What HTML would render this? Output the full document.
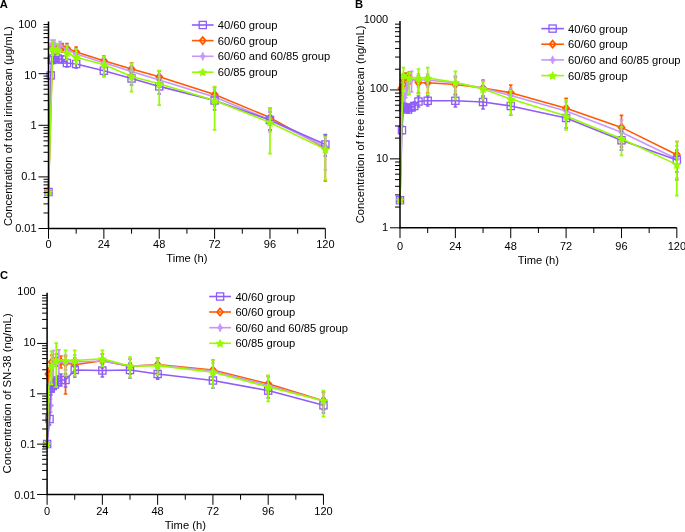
<!DOCTYPE html>
<html><head><meta charset="utf-8"><style>
html,body{margin:0;padding:0;background:#fff;}
svg{display:block;font-family:"Liberation Sans", sans-serif;will-change:transform;}
</style></head><body>
<svg width="685" height="532" viewBox="0 0 685 532" fill="#000">
<text x="36.6" y="231.6" text-anchor="end" font-size="11">0.01</text>
<text x="36.6" y="180.4" text-anchor="end" font-size="11">0.1</text>
<text x="36.6" y="129.2" text-anchor="end" font-size="11">1</text>
<text x="36.6" y="78.9" text-anchor="end" font-size="11">10</text>
<text x="36.6" y="27.9" text-anchor="end" font-size="11">100</text>
<text x="48.5" y="247.9" text-anchor="middle" font-size="11">0</text>
<text x="103.87" y="247.9" text-anchor="middle" font-size="11">24</text>
<text x="159.24" y="247.9" text-anchor="middle" font-size="11">48</text>
<text x="214.6" y="247.9" text-anchor="middle" font-size="11">72</text>
<text x="269.97" y="247.9" text-anchor="middle" font-size="11">96</text>
<text x="325.34" y="247.9" text-anchor="middle" font-size="11">120</text>
<text x="186.92" y="261.9" text-anchor="middle" font-size="11.2">Time (h)</text>
<text transform="translate(12.3 126.2) rotate(-90)" text-anchor="middle" font-size="11.2">Concentration of total irinotecan (μg/mL)</text>
<text x="-0.3" y="7.7" font-size="11.2" font-weight="bold">A</text>
<path d="M52.65 43V52M57.5 44V53M62.34 43.5V52M66.96 43.5V53M76.18 47V57M103.87 56V66M131.55 63V75M159.24 71V83M214.6 87V103M269.97 108V130M325.34 135V181" stroke="#ff5a00" stroke-width="1.7" fill="none"/>
<path d="M50.85 43H54.45M50.85 52H54.45M55.7 44H59.3M55.7 53H59.3M60.54 43.5H64.14M60.54 52H64.14M65.16 43.5H68.76M65.16 53H68.76M74.38 47H77.98M74.38 57H77.98M102.07 56H105.67M102.07 66H105.67M129.75 63H133.35M129.75 75H133.35M157.44 71H161.04M157.44 83H161.04M212.8 87H216.4M212.8 103H216.4M268.17 108H271.77M268.17 130H271.77M323.54 135H327.14M323.54 181H327.14" stroke="#ff5a00" stroke-width="1.7" fill="none"/>
<path d="M48.5 192L52.65 47.5L57.5 48.5L62.34 47.8L66.96 48.3L76.18 52L103.87 60.7L131.55 68.9L159.24 76.8L214.6 94.4L269.97 117.6L325.34 148" stroke="#ff5a00" stroke-width="1.6" fill="none" stroke-linejoin="round"/>
<path d="M48.5 188.5L51.5 192L48.5 195.5L45.5 192Z" fill="none" stroke="#ff5a00" stroke-width="1.8"/>
<path d="M52.65 44L55.65 47.5L52.65 51L49.65 47.5Z" fill="none" stroke="#ff5a00" stroke-width="1.8"/>
<path d="M57.5 45L60.5 48.5L57.5 52L54.5 48.5Z" fill="none" stroke="#ff5a00" stroke-width="1.8"/>
<path d="M62.34 44.3L65.34 47.8L62.34 51.3L59.34 47.8Z" fill="none" stroke="#ff5a00" stroke-width="1.8"/>
<path d="M66.96 44.8L69.96 48.3L66.96 51.8L63.96 48.3Z" fill="none" stroke="#ff5a00" stroke-width="1.8"/>
<path d="M76.18 48.5L79.18 52L76.18 55.5L73.18 52Z" fill="none" stroke="#ff5a00" stroke-width="1.8"/>
<path d="M103.87 57.2L106.87 60.7L103.87 64.2L100.87 60.7Z" fill="none" stroke="#ff5a00" stroke-width="1.8"/>
<path d="M131.55 65.4L134.55 68.9L131.55 72.4L128.55 68.9Z" fill="none" stroke="#ff5a00" stroke-width="1.8"/>
<path d="M159.24 73.3L162.24 76.8L159.24 80.3L156.24 76.8Z" fill="none" stroke="#ff5a00" stroke-width="1.8"/>
<path d="M214.6 90.9L217.6 94.4L214.6 97.9L211.6 94.4Z" fill="none" stroke="#ff5a00" stroke-width="1.8"/>
<path d="M269.97 114.1L272.97 117.6L269.97 121.1L266.97 117.6Z" fill="none" stroke="#ff5a00" stroke-width="1.8"/>
<path d="M325.34 144.5L328.34 148L325.34 151.5L322.34 148Z" fill="none" stroke="#ff5a00" stroke-width="1.8"/>
<path d="M51.96 40V49M54.27 40V49M60.03 41.5V50M66.96 45V55M76.18 49V59M103.87 58V68M131.55 66V77M159.24 74V87M214.6 89V106M269.97 110V132M325.34 136V170" stroke="#c896fa" stroke-width="1.7" fill="none"/>
<path d="M50.16 40H53.76M50.16 49H53.76M52.47 40H56.07M52.47 49H56.07M58.23 41.5H61.83M58.23 50H61.83M65.16 45H68.76M65.16 55H68.76M74.38 49H77.98M74.38 59H77.98M102.07 58H105.67M102.07 68H105.67M129.75 66H133.35M129.75 77H133.35M157.44 74H161.04M157.44 87H161.04M212.8 89H216.4M212.8 106H216.4M268.17 110H271.77M268.17 132H271.77M323.54 136H327.14M323.54 170H327.14" stroke="#c896fa" stroke-width="1.7" fill="none"/>
<path d="M48.5 192L51.96 44.5L54.27 44L60.03 45.5L66.96 49.5L76.18 54L103.87 62.8L131.55 71.5L159.24 80L214.6 96.9L269.97 120L325.34 147" stroke="#c896fa" stroke-width="1.6" fill="none" stroke-linejoin="round"/>
<path d="M48.5 187.9Q49.2 191.1 51.4 192Q49.2 192.9 48.5 196.1Q47.8 192.9 45.6 192Q47.8 191.1 48.5 187.9Z" fill="#c896fa" stroke="#c896fa" stroke-width="0.9" stroke-linejoin="round"/>
<path d="M51.96 40.4Q52.66 43.6 54.86 44.5Q52.66 45.4 51.96 48.6Q51.26 45.4 49.06 44.5Q51.26 43.6 51.96 40.4Z" fill="#c896fa" stroke="#c896fa" stroke-width="0.9" stroke-linejoin="round"/>
<path d="M54.27 39.9Q54.97 43.1 57.17 44Q54.97 44.9 54.27 48.1Q53.57 44.9 51.37 44Q53.57 43.1 54.27 39.9Z" fill="#c896fa" stroke="#c896fa" stroke-width="0.9" stroke-linejoin="round"/>
<path d="M60.03 41.4Q60.73 44.6 62.93 45.5Q60.73 46.4 60.03 49.6Q59.33 46.4 57.13 45.5Q59.33 44.6 60.03 41.4Z" fill="#c896fa" stroke="#c896fa" stroke-width="0.9" stroke-linejoin="round"/>
<path d="M66.96 45.4Q67.66 48.6 69.86 49.5Q67.66 50.4 66.96 53.6Q66.26 50.4 64.06 49.5Q66.26 48.6 66.96 45.4Z" fill="#c896fa" stroke="#c896fa" stroke-width="0.9" stroke-linejoin="round"/>
<path d="M76.18 49.9Q76.88 53.1 79.08 54Q76.88 54.9 76.18 58.1Q75.48 54.9 73.28 54Q75.48 53.1 76.18 49.9Z" fill="#c896fa" stroke="#c896fa" stroke-width="0.9" stroke-linejoin="round"/>
<path d="M103.87 58.7Q104.57 61.9 106.77 62.8Q104.57 63.7 103.87 66.9Q103.17 63.7 100.97 62.8Q103.17 61.9 103.87 58.7Z" fill="#c896fa" stroke="#c896fa" stroke-width="0.9" stroke-linejoin="round"/>
<path d="M131.55 67.4Q132.25 70.6 134.45 71.5Q132.25 72.4 131.55 75.6Q130.85 72.4 128.65 71.5Q130.85 70.6 131.55 67.4Z" fill="#c896fa" stroke="#c896fa" stroke-width="0.9" stroke-linejoin="round"/>
<path d="M159.24 75.9Q159.94 79.1 162.14 80Q159.94 80.9 159.24 84.1Q158.54 80.9 156.34 80Q158.54 79.1 159.24 75.9Z" fill="#c896fa" stroke="#c896fa" stroke-width="0.9" stroke-linejoin="round"/>
<path d="M214.6 92.8Q215.3 96 217.5 96.9Q215.3 97.8 214.6 101Q213.9 97.8 211.7 96.9Q213.9 96 214.6 92.8Z" fill="#c896fa" stroke="#c896fa" stroke-width="0.9" stroke-linejoin="round"/>
<path d="M269.97 115.9Q270.67 119.1 272.87 120Q270.67 120.9 269.97 124.1Q269.27 120.9 267.07 120Q269.27 119.1 269.97 115.9Z" fill="#c896fa" stroke="#c896fa" stroke-width="0.9" stroke-linejoin="round"/>
<path d="M325.34 142.9Q326.04 146.1 328.24 147Q326.04 147.9 325.34 151.1Q324.64 147.9 322.44 147Q324.64 146.1 325.34 142.9Z" fill="#c896fa" stroke="#c896fa" stroke-width="0.9" stroke-linejoin="round"/>
<path d="M50.69 72V79M51.96 56V64M53.11 55V62M55.42 54V62M57.73 55V63M62.34 56V63M66.96 59V67M76.18 60V68M103.87 66V76M131.55 73V85M159.24 80V94M214.6 93V110M269.97 112V130M325.34 134.5V156" stroke="#8f5cf7" stroke-width="1.7" fill="none"/>
<path d="M48.89 72H52.49M48.89 79H52.49M50.16 56H53.76M50.16 64H53.76M51.31 55H54.91M51.31 62H54.91M53.62 54H57.22M53.62 62H57.22M55.93 55H59.53M55.93 63H59.53M60.54 56H64.14M60.54 63H64.14M65.16 59H68.76M65.16 67H68.76M74.38 60H77.98M74.38 68H77.98M102.07 66H105.67M102.07 76H105.67M129.75 73H133.35M129.75 85H133.35M157.44 80H161.04M157.44 94H161.04M212.8 93H216.4M212.8 110H216.4M268.17 112H271.77M268.17 130H271.77M323.54 134.5H327.14M323.54 156H327.14" stroke="#8f5cf7" stroke-width="1.7" fill="none"/>
<path d="M48.5 192L50.69 75.4L51.96 60L53.11 58.5L55.42 58L57.73 58.5L62.34 59.5L66.96 63L76.18 64L103.87 70.7L131.55 78.5L159.24 86.4L214.6 100.5L269.97 120L325.34 144.5" stroke="#8f5cf7" stroke-width="1.6" fill="none" stroke-linejoin="round"/>
<rect x="44.9" y="188.4" width="7.2" height="7.2" fill="none" stroke="#8f5cf7" stroke-width="1.3"/>
<rect x="47.09" y="71.8" width="7.2" height="7.2" fill="none" stroke="#8f5cf7" stroke-width="1.3"/>
<rect x="48.36" y="56.4" width="7.2" height="7.2" fill="none" stroke="#8f5cf7" stroke-width="1.3"/>
<rect x="49.51" y="54.9" width="7.2" height="7.2" fill="none" stroke="#8f5cf7" stroke-width="1.3"/>
<rect x="51.82" y="54.4" width="7.2" height="7.2" fill="none" stroke="#8f5cf7" stroke-width="1.3"/>
<rect x="54.13" y="54.9" width="7.2" height="7.2" fill="none" stroke="#8f5cf7" stroke-width="1.3"/>
<rect x="58.74" y="55.9" width="7.2" height="7.2" fill="none" stroke="#8f5cf7" stroke-width="1.3"/>
<rect x="63.36" y="59.4" width="7.2" height="7.2" fill="none" stroke="#8f5cf7" stroke-width="1.3"/>
<rect x="72.58" y="60.4" width="7.2" height="7.2" fill="none" stroke="#8f5cf7" stroke-width="1.3"/>
<rect x="100.27" y="67.1" width="7.2" height="7.2" fill="none" stroke="#8f5cf7" stroke-width="1.3"/>
<rect x="127.95" y="74.9" width="7.2" height="7.2" fill="none" stroke="#8f5cf7" stroke-width="1.3"/>
<rect x="155.64" y="82.8" width="7.2" height="7.2" fill="none" stroke="#8f5cf7" stroke-width="1.3"/>
<rect x="211" y="96.9" width="7.2" height="7.2" fill="none" stroke="#8f5cf7" stroke-width="1.3"/>
<rect x="266.37" y="116.4" width="7.2" height="7.2" fill="none" stroke="#8f5cf7" stroke-width="1.3"/>
<rect x="321.74" y="140.9" width="7.2" height="7.2" fill="none" stroke="#8f5cf7" stroke-width="1.3"/>
<path d="M52.65 41.7V55.2M57.5 43.7V55.2M66.96 45.7V59.6M76.18 49V64M103.87 56.6V76.8M131.55 63.6V91.7M159.24 70.7V105.2M214.6 86.6V129.9M269.97 107.9V153.6M325.34 137V180" stroke="#95fb00" stroke-width="1.7" fill="none"/>
<path d="M50.85 41.7H54.45M50.85 55.2H54.45M55.7 43.7H59.3M55.7 55.2H59.3M65.16 45.7H68.76M65.16 59.6H68.76M74.38 49H77.98M74.38 64H77.98M102.07 56.6H105.67M102.07 76.8H105.67M129.75 63.6H133.35M129.75 91.7H133.35M157.44 70.7H161.04M157.44 105.2H161.04M212.8 86.6H216.4M212.8 129.9H216.4M268.17 107.9H271.77M268.17 153.6H271.77M323.54 137H327.14M323.54 180H327.14" stroke="#95fb00" stroke-width="1.7" fill="none"/>
<path d="M48.5 192L52.65 48.5L57.5 50L66.96 52.8L76.18 57.3L103.87 64.5L131.55 76.4L159.24 83.8L214.6 100.5L269.97 122.5L325.34 149.4" stroke="#95fb00" stroke-width="1.6" fill="none" stroke-linejoin="round"/>
<polygon points="48.5,187.5 49.94,190.42 53.16,190.89 50.83,193.16 51.38,196.36 48.5,194.85 45.62,196.36 46.17,193.16 43.84,190.89 47.06,190.42" fill="#95fb00"/>
<polygon points="52.65,44 54.09,46.92 57.31,47.39 54.98,49.66 55.53,52.86 52.65,51.35 49.77,52.86 50.32,49.66 47.99,47.39 51.21,46.92" fill="#95fb00"/>
<polygon points="57.5,45.5 58.94,48.42 62.16,48.89 59.83,51.16 60.38,54.36 57.5,52.85 54.62,54.36 55.17,51.16 52.84,48.89 56.06,48.42" fill="#95fb00"/>
<polygon points="66.96,48.3 68.4,51.22 71.62,51.69 69.29,53.96 69.84,57.16 66.96,55.65 64.08,57.16 64.63,53.96 62.3,51.69 65.52,51.22" fill="#95fb00"/>
<polygon points="76.18,52.8 77.62,55.72 80.84,56.19 78.51,58.46 79.06,61.66 76.18,60.15 73.3,61.66 73.85,58.46 71.52,56.19 74.74,55.72" fill="#95fb00"/>
<polygon points="103.87,60 105.31,62.92 108.53,63.39 106.2,65.66 106.75,68.86 103.87,67.35 100.99,68.86 101.54,65.66 99.21,63.39 102.43,62.92" fill="#95fb00"/>
<polygon points="131.55,71.9 132.99,74.82 136.21,75.29 133.88,77.56 134.43,80.76 131.55,79.25 128.67,80.76 129.22,77.56 126.89,75.29 130.11,74.82" fill="#95fb00"/>
<polygon points="159.24,79.3 160.68,82.22 163.9,82.69 161.57,84.96 162.12,88.16 159.24,86.65 156.36,88.16 156.91,84.96 154.58,82.69 157.8,82.22" fill="#95fb00"/>
<polygon points="214.6,96 216.04,98.92 219.26,99.39 216.93,101.66 217.48,104.86 214.6,103.35 211.72,104.86 212.27,101.66 209.94,99.39 213.16,98.92" fill="#95fb00"/>
<polygon points="269.97,118 271.41,120.92 274.63,121.39 272.3,123.66 272.85,126.86 269.97,125.35 267.09,126.86 267.64,123.66 265.31,121.39 268.53,120.92" fill="#95fb00"/>
<polygon points="325.34,144.9 326.78,147.82 330,148.29 327.67,150.56 328.22,153.76 325.34,152.25 322.46,153.76 323.01,150.56 320.68,148.29 323.9,147.82" fill="#95fb00"/>
<path d="M38.5 228.5H48.5M43.5 212.97H48.5M43.5 203.88H48.5M43.5 197.43H48.5M43.5 192.43H48.5M43.5 188.35H48.5M43.5 184.89H48.5M43.5 181.9H48.5M43.5 179.26H48.5M38.5 176.9H48.5M43.5 161.37H48.5M43.5 152.28H48.5M43.5 145.83H48.5M43.5 140.83H48.5M43.5 136.75H48.5M43.5 133.29H48.5M43.5 130.3H48.5M43.5 127.66H48.5M38.5 125.3H48.5M43.5 109.77H48.5M43.5 100.68H48.5M43.5 94.23H48.5M43.5 89.23H48.5M43.5 85.15H48.5M43.5 81.69H48.5M43.5 78.7H48.5M43.5 76.06H48.5M38.5 73.7H48.5M43.5 58.17H48.5M43.5 49.08H48.5M43.5 42.63H48.5M43.5 37.63H48.5M43.5 33.55H48.5M43.5 30.09H48.5M43.5 27.1H48.5M43.5 24.46H48.5M48.5 228.5V238.8M76.18 228.5V233.7M103.87 228.5V238.8M131.55 228.5V233.7M159.24 228.5V238.8M186.92 228.5V233.7M214.6 228.5V238.8M242.29 228.5V233.7M269.97 228.5V238.8M297.66 228.5V233.7M325.34 228.5V238.8" fill="none" stroke="#000" stroke-width="1"/>
<path d="M48.5 21.4V228.5H325.34" fill="none" stroke="#000" stroke-width="1.5"/>
<path d="M191.9 25H213.6" stroke="#8f5cf7" stroke-width="1.6"/>
<rect x="199.15" y="21.4" width="7.2" height="7.2" fill="none" stroke="#8f5cf7" stroke-width="1.3"/>
<text x="217.7" y="29.1" font-size="11.2">40/60 group</text>
<path d="M191.9 40.6H213.6" stroke="#ff5a00" stroke-width="1.6"/>
<path d="M202.75 37.1L205.75 40.6L202.75 44.1L199.75 40.6Z" fill="none" stroke="#ff5a00" stroke-width="1.8"/>
<text x="217.7" y="44.7" font-size="11.2">60/60 group</text>
<path d="M191.9 56.3H213.6" stroke="#c896fa" stroke-width="1.6"/>
<path d="M202.75 52.2Q203.45 55.4 205.65 56.3Q203.45 57.2 202.75 60.4Q202.05 57.2 199.85 56.3Q202.05 55.4 202.75 52.2Z" fill="#c896fa" stroke="#c896fa" stroke-width="0.9" stroke-linejoin="round"/>
<text x="217.7" y="60.4" font-size="11.2">60/60 and 60/85 group</text>
<path d="M191.9 72.2H213.6" stroke="#95fb00" stroke-width="1.6"/>
<polygon points="202.75,67.7 204.19,70.62 207.41,71.09 205.08,73.36 205.63,76.56 202.75,75.05 199.87,76.56 200.42,73.36 198.09,71.09 201.31,70.62" fill="#95fb00"/>
<text x="217.7" y="76.3" font-size="11.2">60/85 group</text>
<text x="388.2" y="230.9" text-anchor="end" font-size="11">1</text>
<text x="388.2" y="161.8" text-anchor="end" font-size="11">10</text>
<text x="388.2" y="92.4" text-anchor="end" font-size="11">100</text>
<text x="388.2" y="22.9" text-anchor="end" font-size="11">1000</text>
<text x="400" y="249.6" text-anchor="middle" font-size="11">0</text>
<text x="455.37" y="249.6" text-anchor="middle" font-size="11">24</text>
<text x="510.74" y="249.6" text-anchor="middle" font-size="11">48</text>
<text x="566.1" y="249.6" text-anchor="middle" font-size="11">72</text>
<text x="621.47" y="249.6" text-anchor="middle" font-size="11">96</text>
<text x="676.84" y="249.6" text-anchor="middle" font-size="11">120</text>
<text x="538.42" y="263.6" text-anchor="middle" font-size="11.2">Time (h)</text>
<text transform="translate(364.2 124.4) rotate(-90)" text-anchor="middle" font-size="11.2">Concentration of free irinotecan (ng/mL)</text>
<text x="355" y="7.7" font-size="11.2" font-weight="bold">B</text>
<path d="M401.38 84V93M403.46 74V87M405.77 73V86M409.23 72V84M418.46 76V93M427.68 76V93M455.37 77V94M483.05 80V97M510.74 85V101M566.1 98.3V118M621.47 115.3V147M676.84 141.5V180" stroke="#ff5a00" stroke-width="1.7" fill="none"/>
<path d="M399.58 84H403.18M399.58 93H403.18M401.66 74H405.26M401.66 87H405.26M403.97 73H407.57M403.97 86H407.57M407.43 72H411.03M407.43 84H411.03M416.66 76H420.26M416.66 93H420.26M425.88 76H429.48M425.88 93H429.48M453.57 77H457.17M453.57 94H457.17M481.25 80H484.85M481.25 97H484.85M508.94 85H512.54M508.94 101H512.54M564.3 98.3H567.9M564.3 118H567.9M619.67 115.3H623.27M619.67 147H623.27M675.04 141.5H678.64M675.04 180H678.64" stroke="#ff5a00" stroke-width="1.7" fill="none"/>
<path d="M400 200.2L401.38 88.3L403.46 80L405.77 79L409.23 77.5L418.46 82.5L427.68 82.8L455.37 84.5L483.05 88L510.74 92.7L566.1 108.2L621.47 127.4L676.84 154.7" stroke="#ff5a00" stroke-width="1.6" fill="none" stroke-linejoin="round"/>
<path d="M400 196.7L403 200.2L400 203.7L397 200.2Z" fill="none" stroke="#ff5a00" stroke-width="1.8"/>
<path d="M401.38 84.8L404.38 88.3L401.38 91.8L398.38 88.3Z" fill="none" stroke="#ff5a00" stroke-width="1.8"/>
<path d="M403.46 76.5L406.46 80L403.46 83.5L400.46 80Z" fill="none" stroke="#ff5a00" stroke-width="1.8"/>
<path d="M405.77 75.5L408.77 79L405.77 82.5L402.77 79Z" fill="none" stroke="#ff5a00" stroke-width="1.8"/>
<path d="M409.23 74L412.23 77.5L409.23 81L406.23 77.5Z" fill="none" stroke="#ff5a00" stroke-width="1.8"/>
<path d="M418.46 79L421.46 82.5L418.46 86L415.46 82.5Z" fill="none" stroke="#ff5a00" stroke-width="1.8"/>
<path d="M427.68 79.3L430.68 82.8L427.68 86.3L424.68 82.8Z" fill="none" stroke="#ff5a00" stroke-width="1.8"/>
<path d="M455.37 81L458.37 84.5L455.37 88L452.37 84.5Z" fill="none" stroke="#ff5a00" stroke-width="1.8"/>
<path d="M483.05 84.5L486.05 88L483.05 91.5L480.05 88Z" fill="none" stroke="#ff5a00" stroke-width="1.8"/>
<path d="M510.74 89.2L513.74 92.7L510.74 96.2L507.74 92.7Z" fill="none" stroke="#ff5a00" stroke-width="1.8"/>
<path d="M566.1 104.7L569.1 108.2L566.1 111.7L563.1 108.2Z" fill="none" stroke="#ff5a00" stroke-width="1.8"/>
<path d="M621.47 123.9L624.47 127.4L621.47 130.9L618.47 127.4Z" fill="none" stroke="#ff5a00" stroke-width="1.8"/>
<path d="M676.84 151.2L679.84 154.7L676.84 158.2L673.84 154.7Z" fill="none" stroke="#ff5a00" stroke-width="1.8"/>
<path d="M401.73 104V116M404.61 93V102M406.92 82V95M411.54 71.4V92M418.46 74V87M427.68 74V87M455.37 76V91M483.05 81V96M510.74 88V104M566.1 102V121M621.47 120V150M676.84 146V178" stroke="#c896fa" stroke-width="1.7" fill="none"/>
<path d="M399.93 104H403.53M399.93 116H403.53M402.81 93H406.41M402.81 102H406.41M405.12 82H408.72M405.12 95H408.72M409.74 71.4H413.34M409.74 92H413.34M416.66 74H420.26M416.66 87H420.26M425.88 74H429.48M425.88 87H429.48M453.57 76H457.17M453.57 91H457.17M481.25 81H484.85M481.25 96H484.85M508.94 88H512.54M508.94 104H512.54M564.3 102H567.9M564.3 121H567.9M619.67 120H623.27M619.67 150H623.27M675.04 146H678.64M675.04 178H678.64" stroke="#c896fa" stroke-width="1.7" fill="none"/>
<path d="M400 200.2L401.73 110L404.61 97.5L406.92 88L411.54 80L418.46 80L427.68 80L455.37 83L483.05 88L510.74 95.5L566.1 111L621.47 132.2L676.84 159" stroke="#c896fa" stroke-width="1.6" fill="none" stroke-linejoin="round"/>
<path d="M400 196.1Q400.7 199.3 402.9 200.2Q400.7 201.1 400 204.3Q399.3 201.1 397.1 200.2Q399.3 199.3 400 196.1Z" fill="#c896fa" stroke="#c896fa" stroke-width="0.9" stroke-linejoin="round"/>
<path d="M401.73 105.9Q402.43 109.1 404.63 110Q402.43 110.9 401.73 114.1Q401.03 110.9 398.83 110Q401.03 109.1 401.73 105.9Z" fill="#c896fa" stroke="#c896fa" stroke-width="0.9" stroke-linejoin="round"/>
<path d="M404.61 93.4Q405.31 96.6 407.51 97.5Q405.31 98.4 404.61 101.6Q403.91 98.4 401.71 97.5Q403.91 96.6 404.61 93.4Z" fill="#c896fa" stroke="#c896fa" stroke-width="0.9" stroke-linejoin="round"/>
<path d="M406.92 83.9Q407.62 87.1 409.82 88Q407.62 88.9 406.92 92.1Q406.22 88.9 404.02 88Q406.22 87.1 406.92 83.9Z" fill="#c896fa" stroke="#c896fa" stroke-width="0.9" stroke-linejoin="round"/>
<path d="M411.54 75.9Q412.24 79.1 414.44 80Q412.24 80.9 411.54 84.1Q410.84 80.9 408.64 80Q410.84 79.1 411.54 75.9Z" fill="#c896fa" stroke="#c896fa" stroke-width="0.9" stroke-linejoin="round"/>
<path d="M418.46 75.9Q419.16 79.1 421.36 80Q419.16 80.9 418.46 84.1Q417.76 80.9 415.56 80Q417.76 79.1 418.46 75.9Z" fill="#c896fa" stroke="#c896fa" stroke-width="0.9" stroke-linejoin="round"/>
<path d="M427.68 75.9Q428.38 79.1 430.58 80Q428.38 80.9 427.68 84.1Q426.98 80.9 424.78 80Q426.98 79.1 427.68 75.9Z" fill="#c896fa" stroke="#c896fa" stroke-width="0.9" stroke-linejoin="round"/>
<path d="M455.37 78.9Q456.07 82.1 458.27 83Q456.07 83.9 455.37 87.1Q454.67 83.9 452.47 83Q454.67 82.1 455.37 78.9Z" fill="#c896fa" stroke="#c896fa" stroke-width="0.9" stroke-linejoin="round"/>
<path d="M483.05 83.9Q483.75 87.1 485.95 88Q483.75 88.9 483.05 92.1Q482.35 88.9 480.15 88Q482.35 87.1 483.05 83.9Z" fill="#c896fa" stroke="#c896fa" stroke-width="0.9" stroke-linejoin="round"/>
<path d="M510.74 91.4Q511.44 94.6 513.64 95.5Q511.44 96.4 510.74 99.6Q510.04 96.4 507.84 95.5Q510.04 94.6 510.74 91.4Z" fill="#c896fa" stroke="#c896fa" stroke-width="0.9" stroke-linejoin="round"/>
<path d="M566.1 106.9Q566.8 110.1 569 111Q566.8 111.9 566.1 115.1Q565.4 111.9 563.2 111Q565.4 110.1 566.1 106.9Z" fill="#c896fa" stroke="#c896fa" stroke-width="0.9" stroke-linejoin="round"/>
<path d="M621.47 128.1Q622.17 131.3 624.37 132.2Q622.17 133.1 621.47 136.3Q620.77 133.1 618.57 132.2Q620.77 131.3 621.47 128.1Z" fill="#c896fa" stroke="#c896fa" stroke-width="0.9" stroke-linejoin="round"/>
<path d="M676.84 154.9Q677.54 158.1 679.74 159Q677.54 159.9 676.84 163.1Q676.14 159.9 673.94 159Q676.14 158.1 676.84 154.9Z" fill="#c896fa" stroke="#c896fa" stroke-width="0.9" stroke-linejoin="round"/>
<path d="M401.96 126V134M403.46 103V111M405.77 104V112M408.07 106V113M411.54 104V111M414.3 102V110M418.46 96V107M427.68 96V106M455.37 95V107M483.05 96V109M510.74 99V115M566.1 110V128M621.47 131V150M676.84 150V172" stroke="#8f5cf7" stroke-width="1.7" fill="none"/>
<path d="M400.16 126H403.76M400.16 134H403.76M401.66 103H405.26M401.66 111H405.26M403.97 104H407.57M403.97 112H407.57M406.27 106H409.87M406.27 113H409.87M409.74 104H413.34M409.74 111H413.34M412.5 102H416.1M412.5 110H416.1M416.66 96H420.26M416.66 107H420.26M425.88 96H429.48M425.88 106H429.48M453.57 95H457.17M453.57 107H457.17M481.25 96H484.85M481.25 109H484.85M508.94 99H512.54M508.94 115H512.54M564.3 110H567.9M564.3 128H567.9M619.67 131H623.27M619.67 150H623.27M675.04 150H678.64M675.04 172H678.64" stroke="#8f5cf7" stroke-width="1.7" fill="none"/>
<path d="M400 200.2L401.96 130.2L403.46 107L405.77 108L408.07 109.5L411.54 107.5L414.3 106L418.46 101.5L427.68 100.8L455.37 100.8L483.05 102L510.74 106L566.1 118L621.47 140.3L676.84 160" stroke="#8f5cf7" stroke-width="1.6" fill="none" stroke-linejoin="round"/>
<rect x="396.4" y="196.6" width="7.2" height="7.2" fill="none" stroke="#8f5cf7" stroke-width="1.3"/>
<rect x="398.36" y="126.6" width="7.2" height="7.2" fill="none" stroke="#8f5cf7" stroke-width="1.3"/>
<rect x="399.86" y="103.4" width="7.2" height="7.2" fill="none" stroke="#8f5cf7" stroke-width="1.3"/>
<rect x="402.17" y="104.4" width="7.2" height="7.2" fill="none" stroke="#8f5cf7" stroke-width="1.3"/>
<rect x="404.47" y="105.9" width="7.2" height="7.2" fill="none" stroke="#8f5cf7" stroke-width="1.3"/>
<rect x="407.94" y="103.9" width="7.2" height="7.2" fill="none" stroke="#8f5cf7" stroke-width="1.3"/>
<rect x="410.7" y="102.4" width="7.2" height="7.2" fill="none" stroke="#8f5cf7" stroke-width="1.3"/>
<rect x="414.86" y="97.9" width="7.2" height="7.2" fill="none" stroke="#8f5cf7" stroke-width="1.3"/>
<rect x="424.08" y="97.2" width="7.2" height="7.2" fill="none" stroke="#8f5cf7" stroke-width="1.3"/>
<rect x="451.77" y="97.2" width="7.2" height="7.2" fill="none" stroke="#8f5cf7" stroke-width="1.3"/>
<rect x="479.45" y="98.4" width="7.2" height="7.2" fill="none" stroke="#8f5cf7" stroke-width="1.3"/>
<rect x="507.14" y="102.4" width="7.2" height="7.2" fill="none" stroke="#8f5cf7" stroke-width="1.3"/>
<rect x="562.5" y="114.4" width="7.2" height="7.2" fill="none" stroke="#8f5cf7" stroke-width="1.3"/>
<rect x="617.87" y="136.7" width="7.2" height="7.2" fill="none" stroke="#8f5cf7" stroke-width="1.3"/>
<rect x="673.24" y="156.4" width="7.2" height="7.2" fill="none" stroke="#8f5cf7" stroke-width="1.3"/>
<path d="M403.46 67.6V90.6M409.23 72.5V94.3M418.46 69V94M427.68 67.6V94M455.37 71.4V99.4M483.05 81.9V99.4M510.74 90.7V115M566.1 100V130M621.47 127V155.3M676.84 141.5V195.6" stroke="#95fb00" stroke-width="1.7" fill="none"/>
<path d="M401.66 67.6H405.26M401.66 90.6H405.26M407.43 72.5H411.03M407.43 94.3H411.03M416.66 69H420.26M416.66 94H420.26M425.88 67.6H429.48M425.88 94H429.48M453.57 71.4H457.17M453.57 99.4H457.17M481.25 81.9H484.85M481.25 99.4H484.85M508.94 90.7H512.54M508.94 115H512.54M564.3 100H567.9M564.3 130H567.9M619.67 127H623.27M619.67 155.3H623.27M675.04 141.5H678.64M675.04 195.6H678.64" stroke="#95fb00" stroke-width="1.7" fill="none"/>
<path d="M400 200.2L401.73 123L403.46 75.5L409.23 78L418.46 78L427.68 78L455.37 82.4L483.05 88.9L510.74 99L566.1 116L621.47 138.7L676.84 164.6" stroke="#95fb00" stroke-width="1.6" fill="none" stroke-linejoin="round"/>
<polygon points="400,195.7 401.44,198.62 404.66,199.09 402.33,201.36 402.88,204.56 400,203.05 397.12,204.56 397.67,201.36 395.34,199.09 398.56,198.62" fill="#95fb00"/>
<polygon points="403.46,71 404.9,73.92 408.12,74.39 405.79,76.66 406.34,79.86 403.46,78.35 400.58,79.86 401.13,76.66 398.8,74.39 402.02,73.92" fill="#95fb00"/>
<polygon points="409.23,73.5 410.67,76.42 413.89,76.89 411.56,79.16 412.11,82.36 409.23,80.85 406.35,82.36 406.9,79.16 404.57,76.89 407.79,76.42" fill="#95fb00"/>
<polygon points="418.46,73.5 419.9,76.42 423.12,76.89 420.79,79.16 421.34,82.36 418.46,80.85 415.58,82.36 416.13,79.16 413.8,76.89 417.02,76.42" fill="#95fb00"/>
<polygon points="427.68,73.5 429.12,76.42 432.34,76.89 430.01,79.16 430.56,82.36 427.68,80.85 424.8,82.36 425.35,79.16 423.02,76.89 426.24,76.42" fill="#95fb00"/>
<polygon points="455.37,77.9 456.81,80.82 460.03,81.29 457.7,83.56 458.25,86.76 455.37,85.25 452.49,86.76 453.04,83.56 450.71,81.29 453.93,80.82" fill="#95fb00"/>
<polygon points="483.05,84.4 484.49,87.32 487.71,87.79 485.38,90.06 485.93,93.26 483.05,91.75 480.17,93.26 480.72,90.06 478.39,87.79 481.61,87.32" fill="#95fb00"/>
<polygon points="510.74,94.5 512.18,97.42 515.4,97.89 513.07,100.16 513.62,103.36 510.74,101.85 507.86,103.36 508.41,100.16 506.08,97.89 509.3,97.42" fill="#95fb00"/>
<polygon points="566.1,111.5 567.54,114.42 570.76,114.89 568.43,117.16 568.98,120.36 566.1,118.85 563.22,120.36 563.77,117.16 561.44,114.89 564.66,114.42" fill="#95fb00"/>
<polygon points="621.47,134.2 622.91,137.12 626.13,137.59 623.8,139.86 624.35,143.06 621.47,141.55 618.59,143.06 619.14,139.86 616.81,137.59 620.03,137.12" fill="#95fb00"/>
<polygon points="676.84,160.1 678.28,163.02 681.5,163.49 679.17,165.76 679.72,168.96 676.84,167.45 673.96,168.96 674.51,165.76 672.18,163.49 675.4,163.02" fill="#95fb00"/>
<path d="M390 227.8H400M395 207.05H400M395 194.91H400M395 186.3H400M395 179.62H400M395 174.16H400M395 169.55H400M395 165.55H400M395 162.02H400M390 158.87H400M395 138.12H400M395 125.98H400M395 117.37H400M395 110.69H400M395 105.23H400M395 100.62H400M395 96.62H400M395 93.09H400M390 89.94H400M395 69.19H400M395 57.05H400M395 48.44H400M395 41.76H400M395 36.3H400M395 31.69H400M395 27.69H400M395 24.16H400M400 227.8V238.1M427.68 227.8V233M455.37 227.8V238.1M483.05 227.8V233M510.74 227.8V238.1M538.42 227.8V233M566.1 227.8V238.1M593.79 227.8V233M621.47 227.8V238.1M649.16 227.8V233M676.84 227.8V238.1" fill="none" stroke="#000" stroke-width="1"/>
<path d="M400 21V227.8H676.84" fill="none" stroke="#000" stroke-width="1.5"/>
<path d="M541.3 28.6H563.9" stroke="#8f5cf7" stroke-width="1.6"/>
<rect x="549" y="25" width="7.2" height="7.2" fill="none" stroke="#8f5cf7" stroke-width="1.3"/>
<text x="568" y="32.7" font-size="11.2">40/60 group</text>
<path d="M541.3 44.2H563.9" stroke="#ff5a00" stroke-width="1.6"/>
<path d="M552.6 40.7L555.6 44.2L552.6 47.7L549.6 44.2Z" fill="none" stroke="#ff5a00" stroke-width="1.8"/>
<text x="568" y="48.3" font-size="11.2">60/60 group</text>
<path d="M541.3 59.9H563.9" stroke="#c896fa" stroke-width="1.6"/>
<path d="M552.6 55.8Q553.3 59 555.5 59.9Q553.3 60.8 552.6 64Q551.9 60.8 549.7 59.9Q551.9 59 552.6 55.8Z" fill="#c896fa" stroke="#c896fa" stroke-width="0.9" stroke-linejoin="round"/>
<text x="568" y="64" font-size="11.2">60/60 and 60/85 group</text>
<path d="M541.3 75.6H563.9" stroke="#95fb00" stroke-width="1.6"/>
<polygon points="552.6,71.1 554.04,74.02 557.26,74.49 554.93,76.76 555.48,79.96 552.6,78.45 549.72,79.96 550.27,76.76 547.94,74.49 551.16,74.02" fill="#95fb00"/>
<text x="568" y="79.7" font-size="11.2">60/85 group</text>
<text x="35.7" y="498.6" text-anchor="end" font-size="11">0.01</text>
<text x="35.7" y="448" text-anchor="end" font-size="11">0.1</text>
<text x="35.7" y="396.7" text-anchor="end" font-size="11">1</text>
<text x="35.7" y="346.1" text-anchor="end" font-size="11">10</text>
<text x="35.7" y="295.1" text-anchor="end" font-size="11">100</text>
<text x="47.1" y="515.3" text-anchor="middle" font-size="11">0</text>
<text x="102.37" y="515.3" text-anchor="middle" font-size="11">24</text>
<text x="157.64" y="515.3" text-anchor="middle" font-size="11">48</text>
<text x="212.92" y="515.3" text-anchor="middle" font-size="11">72</text>
<text x="268.19" y="515.3" text-anchor="middle" font-size="11">96</text>
<text x="323.46" y="515.3" text-anchor="middle" font-size="11">120</text>
<text x="185.28" y="528.5" text-anchor="middle" font-size="11.2">Time (h)</text>
<text transform="translate(11.4 393.4) rotate(-90)" text-anchor="middle" font-size="11.3">Concentration of SN-38 (ng/mL)</text>
<text x="0.1" y="279.4" font-size="11.2" font-weight="bold">C</text>
<path d="M48.48 368V380M51.71 355V370M56.31 354V366M60.92 356V368M65.52 356V394M74.74 358V372M102.37 354V368M130.01 359V374M157.64 358V372M212.92 360V380M268.19 376V392M323.46 392V410" stroke="#ff5a00" stroke-width="1.7" fill="none"/>
<path d="M46.68 368H50.28M46.68 380H50.28M49.91 355H53.51M49.91 370H53.51M54.51 354H58.11M54.51 366H58.11M59.12 356H62.72M59.12 368H62.72M63.72 356H67.32M63.72 394H67.32M72.94 358H76.54M72.94 372H76.54M100.57 354H104.17M100.57 368H104.17M128.21 359H131.81M128.21 374H131.81M155.84 358H159.44M155.84 372H159.44M211.12 360H214.72M211.12 380H214.72M266.39 376H269.99M266.39 392H269.99M321.66 392H325.26M321.66 410H325.26" stroke="#ff5a00" stroke-width="1.7" fill="none"/>
<path d="M47.1 444L48.48 374L51.71 362L56.31 360L60.92 361.8L65.52 363L74.74 364.7L102.37 360.8L130.01 366.4L157.64 364.5L212.92 370L268.19 383.8L323.46 400.7" stroke="#ff5a00" stroke-width="1.6" fill="none" stroke-linejoin="round"/>
<path d="M47.1 440.5L50.1 444L47.1 447.5L44.1 444Z" fill="none" stroke="#ff5a00" stroke-width="1.8"/>
<path d="M48.48 370.5L51.48 374L48.48 377.5L45.48 374Z" fill="none" stroke="#ff5a00" stroke-width="1.8"/>
<path d="M51.71 358.5L54.71 362L51.71 365.5L48.71 362Z" fill="none" stroke="#ff5a00" stroke-width="1.8"/>
<path d="M56.31 356.5L59.31 360L56.31 363.5L53.31 360Z" fill="none" stroke="#ff5a00" stroke-width="1.8"/>
<path d="M60.92 358.3L63.92 361.8L60.92 365.3L57.92 361.8Z" fill="none" stroke="#ff5a00" stroke-width="1.8"/>
<path d="M65.52 359.5L68.52 363L65.52 366.5L62.52 363Z" fill="none" stroke="#ff5a00" stroke-width="1.8"/>
<path d="M74.74 361.2L77.74 364.7L74.74 368.2L71.74 364.7Z" fill="none" stroke="#ff5a00" stroke-width="1.8"/>
<path d="M102.37 357.3L105.37 360.8L102.37 364.3L99.37 360.8Z" fill="none" stroke="#ff5a00" stroke-width="1.8"/>
<path d="M130.01 362.9L133.01 366.4L130.01 369.9L127.01 366.4Z" fill="none" stroke="#ff5a00" stroke-width="1.8"/>
<path d="M157.64 361L160.64 364.5L157.64 368L154.64 364.5Z" fill="none" stroke="#ff5a00" stroke-width="1.8"/>
<path d="M212.92 366.5L215.92 370L212.92 373.5L209.92 370Z" fill="none" stroke="#ff5a00" stroke-width="1.8"/>
<path d="M268.19 380.3L271.19 383.8L268.19 387.3L265.19 383.8Z" fill="none" stroke="#ff5a00" stroke-width="1.8"/>
<path d="M323.46 397.2L326.46 400.7L323.46 404.2L320.46 400.7Z" fill="none" stroke="#ff5a00" stroke-width="1.8"/>
<path d="M50.78 399V412M53.32 350.5V385M58.85 349.8V378M65.52 355V370M74.74 355V370M102.37 354V368M130.01 359V374M157.64 358V372M212.92 363V380M268.19 377V394M323.46 393V410" stroke="#c896fa" stroke-width="1.7" fill="none"/>
<path d="M48.98 399H52.58M48.98 412H52.58M51.52 350.5H55.12M51.52 385H55.12M57.05 349.8H60.65M57.05 378H60.65M63.72 355H67.32M63.72 370H67.32M72.94 355H76.54M72.94 370H76.54M100.57 354H104.17M100.57 368H104.17M128.21 359H131.81M128.21 374H131.81M155.84 358H159.44M155.84 372H159.44M211.12 363H214.72M211.12 380H214.72M266.39 377H269.99M266.39 394H269.99M321.66 393H325.26M321.66 410H325.26" stroke="#c896fa" stroke-width="1.7" fill="none"/>
<path d="M47.1 444L50.78 405.5L53.32 365L58.85 362L65.52 362L74.74 362L102.37 361L130.01 366L157.64 365L212.92 371L268.19 385.5L323.46 401" stroke="#c896fa" stroke-width="1.6" fill="none" stroke-linejoin="round"/>
<path d="M47.1 439.9Q47.8 443.1 50 444Q47.8 444.9 47.1 448.1Q46.4 444.9 44.2 444Q46.4 443.1 47.1 439.9Z" fill="#c896fa" stroke="#c896fa" stroke-width="0.9" stroke-linejoin="round"/>
<path d="M50.78 401.4Q51.48 404.6 53.68 405.5Q51.48 406.4 50.78 409.6Q50.08 406.4 47.88 405.5Q50.08 404.6 50.78 401.4Z" fill="#c896fa" stroke="#c896fa" stroke-width="0.9" stroke-linejoin="round"/>
<path d="M53.32 360.9Q54.02 364.1 56.22 365Q54.02 365.9 53.32 369.1Q52.62 365.9 50.42 365Q52.62 364.1 53.32 360.9Z" fill="#c896fa" stroke="#c896fa" stroke-width="0.9" stroke-linejoin="round"/>
<path d="M58.85 357.9Q59.55 361.1 61.75 362Q59.55 362.9 58.85 366.1Q58.15 362.9 55.95 362Q58.15 361.1 58.85 357.9Z" fill="#c896fa" stroke="#c896fa" stroke-width="0.9" stroke-linejoin="round"/>
<path d="M65.52 357.9Q66.22 361.1 68.42 362Q66.22 362.9 65.52 366.1Q64.82 362.9 62.62 362Q64.82 361.1 65.52 357.9Z" fill="#c896fa" stroke="#c896fa" stroke-width="0.9" stroke-linejoin="round"/>
<path d="M74.74 357.9Q75.44 361.1 77.64 362Q75.44 362.9 74.74 366.1Q74.04 362.9 71.84 362Q74.04 361.1 74.74 357.9Z" fill="#c896fa" stroke="#c896fa" stroke-width="0.9" stroke-linejoin="round"/>
<path d="M102.37 356.9Q103.07 360.1 105.27 361Q103.07 361.9 102.37 365.1Q101.67 361.9 99.47 361Q101.67 360.1 102.37 356.9Z" fill="#c896fa" stroke="#c896fa" stroke-width="0.9" stroke-linejoin="round"/>
<path d="M130.01 361.9Q130.71 365.1 132.91 366Q130.71 366.9 130.01 370.1Q129.31 366.9 127.11 366Q129.31 365.1 130.01 361.9Z" fill="#c896fa" stroke="#c896fa" stroke-width="0.9" stroke-linejoin="round"/>
<path d="M157.64 360.9Q158.34 364.1 160.54 365Q158.34 365.9 157.64 369.1Q156.94 365.9 154.74 365Q156.94 364.1 157.64 360.9Z" fill="#c896fa" stroke="#c896fa" stroke-width="0.9" stroke-linejoin="round"/>
<path d="M212.92 366.9Q213.62 370.1 215.82 371Q213.62 371.9 212.92 375.1Q212.22 371.9 210.02 371Q212.22 370.1 212.92 366.9Z" fill="#c896fa" stroke="#c896fa" stroke-width="0.9" stroke-linejoin="round"/>
<path d="M268.19 381.4Q268.89 384.6 271.09 385.5Q268.89 386.4 268.19 389.6Q267.49 386.4 265.29 385.5Q267.49 384.6 268.19 381.4Z" fill="#c896fa" stroke="#c896fa" stroke-width="0.9" stroke-linejoin="round"/>
<path d="M323.46 396.9Q324.16 400.1 326.36 401Q324.16 401.9 323.46 405.1Q322.76 401.9 320.56 401Q322.76 400.1 323.46 396.9Z" fill="#c896fa" stroke="#c896fa" stroke-width="0.9" stroke-linejoin="round"/>
<path d="M49.52 413V425M50.78 382V395M52.86 380V392M55.16 377V389M57.46 376V388M60.92 374V386M65.52 374V387M74.74 364V377M102.37 364V377M130.01 363V378M157.64 368V379.1M212.92 373V388M268.19 383V398M323.46 398V413" stroke="#8f5cf7" stroke-width="1.7" fill="none"/>
<path d="M47.72 413H51.32M47.72 425H51.32M48.98 382H52.58M48.98 395H52.58M51.06 380H54.66M51.06 392H54.66M53.36 377H56.96M53.36 389H56.96M55.66 376H59.26M55.66 388H59.26M59.12 374H62.72M59.12 386H62.72M63.72 374H67.32M63.72 387H67.32M72.94 364H76.54M72.94 377H76.54M100.57 364H104.17M100.57 377H104.17M128.21 363H131.81M128.21 378H131.81M155.84 368H159.44M155.84 379.1H159.44M211.12 373H214.72M211.12 388H214.72M266.39 383H269.99M266.39 398H269.99M321.66 398H325.26M321.66 413H325.26" stroke="#8f5cf7" stroke-width="1.7" fill="none"/>
<path d="M47.1 444L49.52 419L50.78 388.5L52.86 386L55.16 383L57.46 382L60.92 380L65.52 380L74.74 370L102.37 370.5L130.01 370L157.64 374L212.92 380.5L268.19 390.6L323.46 405.3" stroke="#8f5cf7" stroke-width="1.6" fill="none" stroke-linejoin="round"/>
<rect x="43.5" y="440.4" width="7.2" height="7.2" fill="none" stroke="#8f5cf7" stroke-width="1.3"/>
<rect x="45.92" y="415.4" width="7.2" height="7.2" fill="none" stroke="#8f5cf7" stroke-width="1.3"/>
<rect x="47.18" y="384.9" width="7.2" height="7.2" fill="none" stroke="#8f5cf7" stroke-width="1.3"/>
<rect x="49.26" y="382.4" width="7.2" height="7.2" fill="none" stroke="#8f5cf7" stroke-width="1.3"/>
<rect x="51.56" y="379.4" width="7.2" height="7.2" fill="none" stroke="#8f5cf7" stroke-width="1.3"/>
<rect x="53.86" y="378.4" width="7.2" height="7.2" fill="none" stroke="#8f5cf7" stroke-width="1.3"/>
<rect x="57.32" y="376.4" width="7.2" height="7.2" fill="none" stroke="#8f5cf7" stroke-width="1.3"/>
<rect x="61.92" y="376.4" width="7.2" height="7.2" fill="none" stroke="#8f5cf7" stroke-width="1.3"/>
<rect x="71.14" y="366.4" width="7.2" height="7.2" fill="none" stroke="#8f5cf7" stroke-width="1.3"/>
<rect x="98.77" y="366.9" width="7.2" height="7.2" fill="none" stroke="#8f5cf7" stroke-width="1.3"/>
<rect x="126.41" y="366.4" width="7.2" height="7.2" fill="none" stroke="#8f5cf7" stroke-width="1.3"/>
<rect x="154.04" y="370.4" width="7.2" height="7.2" fill="none" stroke="#8f5cf7" stroke-width="1.3"/>
<rect x="209.32" y="376.9" width="7.2" height="7.2" fill="none" stroke="#8f5cf7" stroke-width="1.3"/>
<rect x="264.59" y="387" width="7.2" height="7.2" fill="none" stroke="#8f5cf7" stroke-width="1.3"/>
<rect x="319.86" y="401.7" width="7.2" height="7.2" fill="none" stroke="#8f5cf7" stroke-width="1.3"/>
<path d="M51.59 351.3V384.3M56.2 343.1V386.8M65.52 350.3V375.7M74.74 350.3V375.7M102.37 350.3V366.4M130.01 357V377.4M157.64 358.3V375.2M212.92 360V387.5M268.19 375.3V401.3M323.46 390.6V416.6" stroke="#95fb00" stroke-width="1.7" fill="none"/>
<path d="M49.79 351.3H53.39M49.79 384.3H53.39M54.4 343.1H58M54.4 386.8H58M63.72 350.3H67.32M63.72 375.7H67.32M72.94 350.3H76.54M72.94 375.7H76.54M100.57 350.3H104.17M100.57 366.4H104.17M128.21 357H131.81M128.21 377.4H131.81M155.84 358.3H159.44M155.84 375.2H159.44M211.12 360H214.72M211.12 387.5H214.72M266.39 375.3H269.99M266.39 401.3H269.99M321.66 390.6H325.26M321.66 416.6H325.26" stroke="#95fb00" stroke-width="1.7" fill="none"/>
<path d="M47.1 444L48.25 392L51.59 366L56.2 360L65.52 360.5L74.74 360.5L102.37 358.8L130.01 366L157.64 365.6L212.92 372.2L268.19 386.9L323.46 400.7" stroke="#95fb00" stroke-width="1.6" fill="none" stroke-linejoin="round"/>
<polygon points="47.1,439.5 48.54,442.42 51.76,442.89 49.43,445.16 49.98,448.36 47.1,446.85 44.22,448.36 44.77,445.16 42.44,442.89 45.66,442.42" fill="#95fb00"/>
<polygon points="51.59,361.5 53.03,364.42 56.25,364.89 53.92,367.16 54.47,370.36 51.59,368.85 48.71,370.36 49.26,367.16 46.93,364.89 50.15,364.42" fill="#95fb00"/>
<polygon points="56.2,355.5 57.64,358.42 60.86,358.89 58.53,361.16 59.08,364.36 56.2,362.85 53.32,364.36 53.87,361.16 51.54,358.89 54.76,358.42" fill="#95fb00"/>
<polygon points="65.52,356 66.96,358.92 70.18,359.39 67.85,361.66 68.4,364.86 65.52,363.35 62.64,364.86 63.19,361.66 60.86,359.39 64.08,358.92" fill="#95fb00"/>
<polygon points="74.74,356 76.18,358.92 79.4,359.39 77.07,361.66 77.62,364.86 74.74,363.35 71.86,364.86 72.41,361.66 70.08,359.39 73.3,358.92" fill="#95fb00"/>
<polygon points="102.37,354.3 103.81,357.22 107.03,357.69 104.7,359.96 105.25,363.16 102.37,361.65 99.49,363.16 100.04,359.96 97.71,357.69 100.93,357.22" fill="#95fb00"/>
<polygon points="130.01,361.5 131.45,364.42 134.67,364.89 132.34,367.16 132.89,370.36 130.01,368.85 127.13,370.36 127.68,367.16 125.35,364.89 128.57,364.42" fill="#95fb00"/>
<polygon points="157.64,361.1 159.08,364.02 162.3,364.49 159.97,366.76 160.52,369.96 157.64,368.45 154.76,369.96 155.31,366.76 152.98,364.49 156.2,364.02" fill="#95fb00"/>
<polygon points="212.92,367.7 214.36,370.62 217.58,371.09 215.25,373.36 215.8,376.56 212.92,375.05 210.04,376.56 210.59,373.36 208.26,371.09 211.48,370.62" fill="#95fb00"/>
<polygon points="268.19,382.4 269.63,385.32 272.85,385.79 270.52,388.06 271.07,391.26 268.19,389.75 265.31,391.26 265.86,388.06 263.53,385.79 266.75,385.32" fill="#95fb00"/>
<polygon points="323.46,396.2 324.9,399.12 328.12,399.59 325.79,401.86 326.34,405.06 323.46,403.55 320.58,405.06 321.13,401.86 318.8,399.59 322.02,399.12" fill="#95fb00"/>
<path d="M37.1 494.5H47.1M42.1 479.34H47.1M42.1 470.48H47.1M42.1 464.19H47.1M42.1 459.31H47.1M42.1 455.32H47.1M42.1 451.95H47.1M42.1 449.03H47.1M42.1 446.45H47.1M37.1 444.15H47.1M42.1 428.99H47.1M42.1 420.13H47.1M42.1 413.84H47.1M42.1 408.96H47.1M42.1 404.97H47.1M42.1 401.6H47.1M42.1 398.68H47.1M42.1 396.1H47.1M37.1 393.8H47.1M42.1 378.64H47.1M42.1 369.78H47.1M42.1 363.49H47.1M42.1 358.61H47.1M42.1 354.62H47.1M42.1 351.25H47.1M42.1 348.33H47.1M42.1 345.75H47.1M37.1 343.45H47.1M42.1 328.29H47.1M42.1 319.43H47.1M42.1 313.14H47.1M42.1 308.26H47.1M42.1 304.27H47.1M42.1 300.9H47.1M42.1 297.98H47.1M42.1 295.4H47.1M47.1 494.5V504.8M74.74 494.5V499.7M102.37 494.5V504.8M130.01 494.5V499.7M157.64 494.5V504.8M185.28 494.5V499.7M212.92 494.5V504.8M240.55 494.5V499.7M268.19 494.5V504.8M295.82 494.5V499.7M323.46 494.5V504.8" fill="none" stroke="#000" stroke-width="1"/>
<path d="M47.1 292.8V494.5H323.46" fill="none" stroke="#000" stroke-width="1.5"/>
<path d="M209.2 296.5H231" stroke="#8f5cf7" stroke-width="1.6"/>
<rect x="216.5" y="292.9" width="7.2" height="7.2" fill="none" stroke="#8f5cf7" stroke-width="1.3"/>
<text x="235.4" y="300.6" font-size="11.2">40/60 group</text>
<path d="M209.2 312H231" stroke="#ff5a00" stroke-width="1.6"/>
<path d="M220.1 308.5L223.1 312L220.1 315.5L217.1 312Z" fill="none" stroke="#ff5a00" stroke-width="1.8"/>
<text x="235.4" y="316.1" font-size="11.2">60/60 group</text>
<path d="M209.2 327.7H231" stroke="#c896fa" stroke-width="1.6"/>
<path d="M220.1 323.6Q220.8 326.8 223 327.7Q220.8 328.6 220.1 331.8Q219.4 328.6 217.2 327.7Q219.4 326.8 220.1 323.6Z" fill="#c896fa" stroke="#c896fa" stroke-width="0.9" stroke-linejoin="round"/>
<text x="235.4" y="331.8" font-size="11.2">60/60 and 60/85 group</text>
<path d="M209.2 343.3H231" stroke="#95fb00" stroke-width="1.6"/>
<polygon points="220.1,338.8 221.54,341.72 224.76,342.19 222.43,344.46 222.98,347.66 220.1,346.15 217.22,347.66 217.77,344.46 215.44,342.19 218.66,341.72" fill="#95fb00"/>
<text x="235.4" y="347.4" font-size="11.2">60/85 group</text>
</svg>
</body></html>
